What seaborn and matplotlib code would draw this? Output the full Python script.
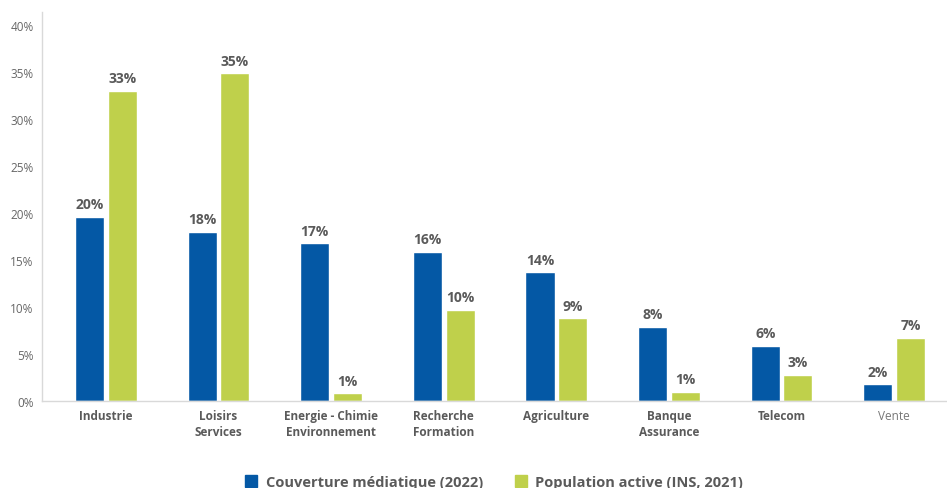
import pandas as pd
import matplotlib.pyplot as plt
import seaborn as sns
from matplotlib.patches import Patch

sns.set_theme(style="white")
plt.rcParams["font.family"] = ["Open Sans", "DejaVu Sans"]

# secteurs et valeurs (en %)
secteurs = ["Industrie", "Loisirs\nServices", "Energie - Chimie\nEnvironnement",
            "Recherche\nFormation", "Agriculture", "Banque\nAssurance", "Telecom", "Vente"]
couverture = [19.6, 18.0, 16.8, 15.9, 13.7, 7.9, 5.9, 1.8]
population = [33.0, 34.9, 0.8, 9.7, 8.8, 1.0, 2.8, 6.7]
series = ["Couverture médiatique (2022)", "Population active (INS, 2021)"]
couleurs = ["#0458A5", "#BFD04B"]
yticks = [0, 5, 10, 15, 20, 25, 30, 35, 40]

df = pd.DataFrame({
    "secteur": secteurs * 2,
    "valeur": couverture + population,
    "serie": [series[0]] * len(secteurs) + [series[1]] * len(secteurs),
})

fig = plt.figure(figsize=(9.47, 4.89), dpi=100)
ax = fig.add_axes([42 / 947, (489 - 402) / 489, 904 / 947, 389 / 489])

sns.barplot(data=df, x="secteur", y="valeur", hue="serie", palette=couleurs,
            width=0.58, gap=0.11, legend=False, ax=ax, saturation=1)

gris = "#5a5a5a"
for cont in ax.containers:
    ax.bar_label(cont, labels=[f"{v:.0f}%" for v in cont.datavalues], padding=4,
                 fontsize=10, fontweight="bold", color=gris)

ax.set_xlim(-0.567, 7.46)
ax.set_ylim(0, 41.4)
ax.set_yticks(yticks)
ax.set_yticklabels([f"{t}%" for t in yticks], fontsize=8.5, color="#666666")
ax.set_xticks(range(len(secteurs)))
ax.set_xticklabels(secteurs, fontsize=8.5, fontweight="bold", color=gris, linespacing=1.3)
ax.get_xticklabels()[-1].set_fontweight("normal")
ax.get_xticklabels()[-1].set_color("#777777")
ax.tick_params(axis="both", length=0, pad=6)
ax.set_xlabel("")
ax.set_ylabel("")

for s in ["top", "right"]:
    ax.spines[s].set_visible(False)
for s in ["left", "bottom"]:
    ax.spines[s].set_color("#d9d9d9")
    ax.spines[s].set_linewidth(1)

handles = [Patch(color=c, label=l) for c, l in zip(couleurs, series)]
fig.legend(handles=handles, loc="center", bbox_to_anchor=(0.522, 0.012), ncol=2,
           frameon=False, handlelength=0.8, handleheight=0.8,
           columnspacing=2.2, handletextpad=0.6,
           prop={"weight": "bold", "size": 10.5})
for t in fig.legends[0].get_texts():
    t.set_color(gris)

fig.savefig("out.png", dpi=100)
